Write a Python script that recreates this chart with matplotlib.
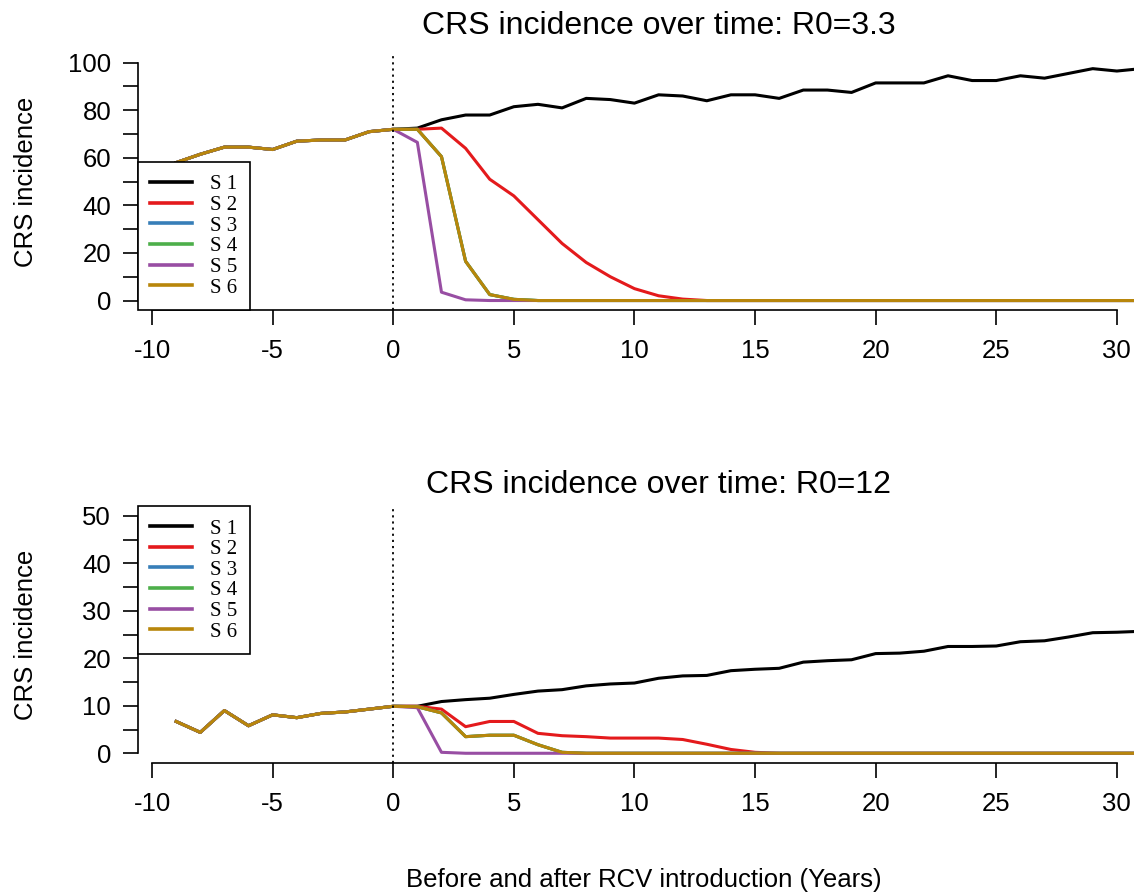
import matplotlib.pyplot as plt
import numpy as np

plt.rcParams['font.family'] = ['Liberation Sans', 'DejaVu Sans']
plt.rcParams['axes.unicode_minus'] = False

years = list(range(-9, 32))
names = ["S 1", "S 2", "S 3", "S 4", "S 5", "S 6"]
colors = ["black", "#E41A1C", "#377EB8", "#4DAF4A", "#984EA3", "#B8860B"]

# R0 = 3.3 : years -9..-1 are shared by all scenarios
pre_a = [58, 61.5, 64.5, 64.5, 63.5, 67, 67.5, 67.5, 71]
s1_a = [72, 72.5, 76, 78, 78, 81.5, 82.5, 81, 85, 84.5, 83, 86.5, 86, 84, 86.5, 86.5,
        85, 88.5, 88.5, 87.5, 91.5, 91.5, 91.5, 94.5, 92.5, 92.5, 94.5, 93.5, 95.5, 97.5, 96.5, 97.5]
s2_a = [72, 72, 72.5, 64, 51, 44, 34, 24, 16, 10, 5, 2, 0.6, 0, 0, 0,
        0, 0, 0, 0, 0, 0, 0, 0, 0, 0, 0, 0, 0, 0, 0, 0]
s5_a = [72, 66.5, 3.5, 0.3, 0, 0, 0, 0, 0, 0, 0, 0, 0, 0, 0, 0,
        0, 0, 0, 0, 0, 0, 0, 0, 0, 0, 0, 0, 0, 0, 0, 0]
s6_a = [72, 72, 60.5, 16.5, 2.5, 0.5, 0, 0, 0, 0, 0, 0, 0, 0, 0, 0,
        0, 0, 0, 0, 0, 0, 0, 0, 0, 0, 0, 0, 0, 0, 0, 0]
s3_a = s6_a
s4_a = s6_a

# R0 = 12
pre_b = [6.7, 4.4, 9.0, 5.8, 8.1, 7.5, 8.4, 8.7, 9.3]
s1_b = [9.9, 9.9, 10.9, 11.3, 11.6, 12.4, 13.1, 13.4, 14.2, 14.6, 14.8, 15.8, 16.3, 16.4, 17.4, 17.7,
        17.9, 19.2, 19.5, 19.7, 21.0, 21.1, 21.5, 22.5, 22.5, 22.6, 23.5, 23.7, 24.5, 25.4, 25.5, 25.7]
s2_b = [9.9, 9.9, 9.3, 5.6, 6.7, 6.7, 4.2, 3.7, 3.5, 3.2, 3.2, 3.2, 2.9, 1.9, 0.8, 0.2,
        0, 0, 0, 0, 0, 0, 0, 0, 0, 0, 0, 0, 0, 0, 0, 0]
s5_b = [9.9, 9.6, 0.2, 0, 0, 0, 0, 0, 0, 0, 0, 0, 0, 0, 0, 0,
        0, 0, 0, 0, 0, 0, 0, 0, 0, 0, 0, 0, 0, 0, 0, 0]
s6_b = [9.9, 9.8, 8.5, 3.5, 3.8, 3.8, 1.8, 0.2, 0, 0, 0, 0, 0, 0, 0, 0,
        0, 0, 0, 0, 0, 0, 0, 0, 0, 0, 0, 0, 0, 0, 0, 0]
s3_b = s6_b
s4_b = s6_b


def panel(ax, pre, series, title, ymax, ystep, lstep, legend_loc, tpad):
    for vals, c, n in zip(series, colors, names):
        ax.plot(years, pre + vals, color=c, lw=2.2, label=n)
    ax.axvline(0, color="black", lw=1.3, ls=(0, (1.2, 2.2)))
    ax.set_xlim(-10.6, 32.6)
    ax.set_ylim(-ymax * 0.04, ymax * 1.04)
    for s in ["top", "right"]:
        ax.spines[s].set_visible(False)
    ax.spines["left"].set_bounds(0, ymax)
    ax.spines["bottom"].set_bounds(-10, 30)
    ax.spines["left"].set_linewidth(1.2)
    ax.spines["bottom"].set_linewidth(1.2)
    ax.set_xticks(range(-10, 31, 5))
    yt = np.arange(0, ymax + 1, ystep)
    ax.set_yticks(yt, labels=[str(int(v)) if v % lstep == 0 else "" for v in yt])
    ax.tick_params(length=11, width=1.2, labelsize=18.5, pad=8)
    ax.tick_params(axis="x", pad=10)
    ax.set_ylabel("CRS incidence", fontsize=18.5)
    ax.yaxis.set_label_coords(-0.096, 0.5)
    ax.set_title(title, fontsize=23, pad=tpad)
    leg = ax.legend(loc=legend_loc, bbox_to_anchor=(0, 0, 1, 1), borderaxespad=0,
                    fancybox=False, edgecolor="black", framealpha=1,
                    prop={"family": "Liberation Serif", "size": 15},
                    handlelength=2.0, handletextpad=0.87, labelspacing=0.05, borderpad=0.6)
    leg.get_frame().set_linewidth(1.2)
    for line in leg.get_lines():
        line.set_linewidth(2.6)


fig = plt.figure(figsize=(11.34, 8.94), dpi=100)
ax1 = fig.add_axes([0.1213, 0.6532, 0.9189, 0.2873])
ax2 = fig.add_axes([0.1213, 0.1468, 0.9189, 0.2867])

panel(ax1, pre_a, [s1_a, s2_a, s3_a, s4_a, s5_a, s6_a],
      "CRS incidence over time: R0=3.3", 100, 10, 20, "lower left", 14)
panel(ax2, pre_b, [s1_b, s2_b, s3_b, s4_b, s5_b, s6_b],
      "CRS incidence over time: R0=12", 50, 5, 10, "upper left", 9.5)

fig.text(644 / 1134, 1 - 880 / 894, "Before and after RCV introduction (Years)",
         fontsize=18.5, ha="center", va="center")

fig.savefig("out.png", dpi=100)
